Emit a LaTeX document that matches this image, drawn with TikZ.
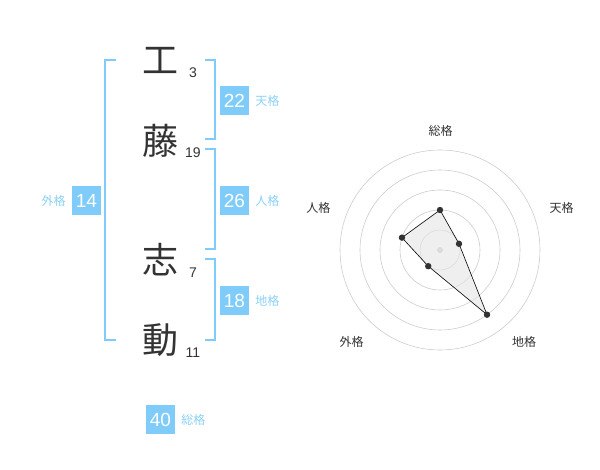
\documentclass[tikz,border=0pt]{standalone}
\usepackage{fontspec}
\usetikzlibrary{positioning}
\setmainfont{Liberation Sans}
\newfontfamily\jpfont{Noto Sans CJK JP}
\definecolor{kakuBlue}{HTML}{7FCCFA}
\definecolor{kakuLabel}{HTML}{8AD0F7}
\definecolor{inkGray}{HTML}{333333}
\definecolor{ringGray}{HTML}{CCCCCC}
\begin{document}
\begin{tikzpicture}[x=1pt, y=-1pt,
    kanji/.style={font=\jpfont\fontsize{36}{36}\selectfont, text=inkGray, inner sep=0pt},
    strokes/.style={font=\fontsize{14}{14}\selectfont, text=inkGray, inner sep=0pt},
    kakubox/.style={fill=kakuBlue, text=white, minimum size=29pt, inner sep=0pt,
        font=\fontsize{19}{19}\selectfont},
    kakulabel/.style={font=\jpfont\fontsize{12}{12}\selectfont, text=kakuLabel, inner sep=0pt},
    bracket/.style={draw=kakuBlue, line width=2pt},
    ring/.style={draw=ringGray, line width=0.6pt},
    axislabel/.style={font=\jpfont\fontsize{12}{12}\selectfont, text=inkGray, inner sep=0pt},
    dot/.style={fill=inkGray}]

    \useasboundingbox (0,0) rectangle (600,470);

    \def\Xk{160}; % kanji column
    \def\Xs{193}; % stroke counts
    \def\Xb{234.5}; % right boxes

    % name
    \node[kanji] (k1) at (\Xk, 60) {工};
    \node[kanji] (k2) at (\Xk, 141) {藤};
    \node[kanji] (k3) at (\Xk, 260) {志};
    \node[kanji] (k4) at (\Xk, 340) {動};

    \node[strokes] (s1) at (\Xs, 72.5) {3};
    \node[strokes] (s2) at (\Xs, 153) {19};
    \node[strokes] (s3) at (\Xs, 273) {7};
    \node[strokes] (s4) at (\Xs, 352.5) {11};

    % brackets
    \draw[bracket] (116, 60) -- (105, 60) -- (105, 340) -- (116, 340);
    \draw[bracket] (205, 60) -- (215, 60) -- (215, 139) -- (205, 139);
    \draw[bracket] (205, 149) -- (215, 149) -- (215, 249) -- (205, 249);
    \draw[bracket] (205, 259) -- (215, 259) -- (215, 340) -- (205, 340);

    % scores
    \node[kakubox] (ten) at (\Xb, 100.5) {22};
    \node[kakulabel, right=6pt of ten] (tenl) {天格};
    \node[kakubox] (jin) at (\Xb, 200.5) {26};
    \node[kakulabel, right=6pt of jin] (jinl) {人格};
    \node[kakubox] (chi) at (\Xb, 300.5) {18};
    \node[kakulabel, right=6pt of chi] (chil) {地格};
    \node[kakubox] (gai) at (86.5, 200.5) {14};
    \node[kakulabel, left=6pt of gai] (gail) {外格};
    \node[kakubox] (sou) at (160.5, 419.5) {40};
    \node[kakulabel, right=6pt of sou] (soul) {総格};

    % radar
    \begin{scope}[shift={(440,250)}, y=1pt]
        \foreach \r in {20,40,...,100}
            \draw[ring] (0,0) circle (\r);
        \fill[ringGray] (0,0) circle (3);

        \coordinate (pSou) at (90:40);
        \coordinate (pTen) at (18:20);
        \coordinate (pChi) at (-54:80);
        \coordinate (pGai) at (-126:20);
        \coordinate (pJin) at (162:40);

        \draw[black, line width=0.6pt, fill=black!10, fill opacity=0.6]
            (pSou) -- (pTen) -- (pChi) -- (pGai) -- (pJin) -- cycle;
        \foreach \p in {pSou,pTen,pChi,pGai,pJin}
            \fill[dot] (\p) circle (3.2);
    \end{scope}

    \node[axislabel] (aSou) at (440.7, 130.7) {総格};
    \node[axislabel] (aTen) at (561.7, 208.3) {天格};
    \node[axislabel] (aChi) at (524, 341.7) {地格};
    \node[axislabel] (aGai) at (351.7, 341.7) {外格};
    \node[axislabel] (aJin) at (318.3, 208.3) {人格};

\end{tikzpicture}
\end{document}
